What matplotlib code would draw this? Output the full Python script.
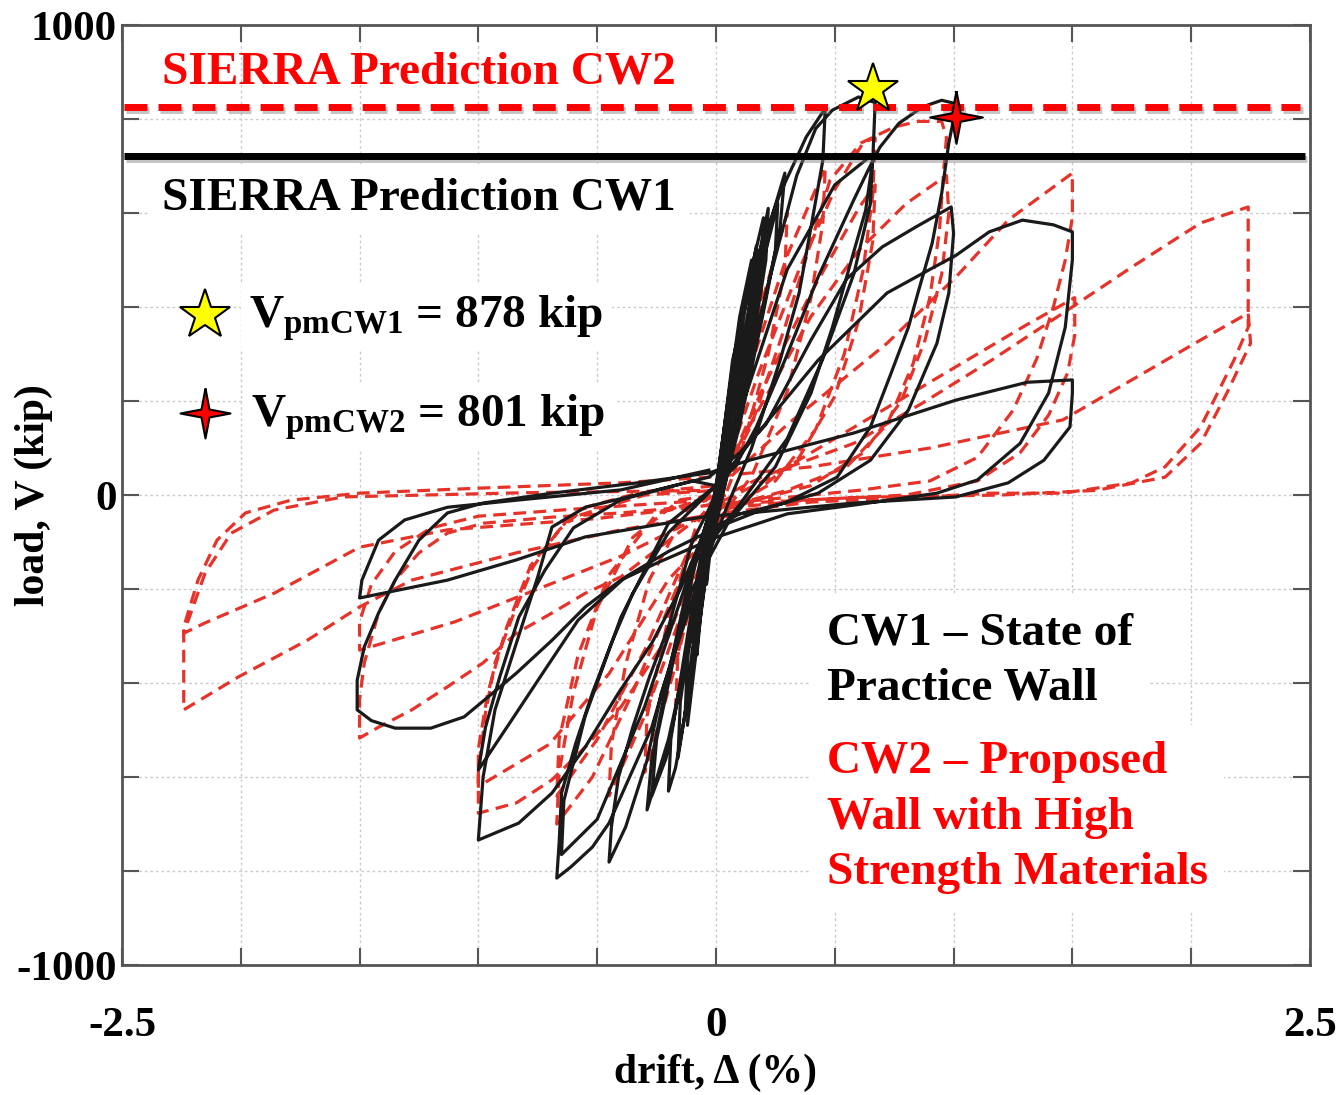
import numpy as np
import matplotlib.pyplot as plt
import matplotlib.patheffects as pe

plt.rcParams['font.family'] = ['Liberation Serif', 'DejaVu Serif']
plt.rcParams['font.weight'] = 'bold'
plt.rcParams['mathtext.fontset'] = 'custom'
plt.rcParams['mathtext.rm'] = 'Liberation Serif:bold'
plt.rcParams['mathtext.it'] = 'Liberation Serif:bold'
plt.rcParams['mathtext.bf'] = 'Liberation Serif:bold'

# SIERRA predictions (kip)
sierra_cw1 = 722
sierra_cw2 = 826

# peak strengths marked by stars (drift %, load kip)
peak_cw1 = (0.66, 865)
peak_cw2 = (1.01, 804)

# CW1 - state of practice wall, cycles (drift %, load kip)
cw1_c01 = [(0, 0), (0.03, 110), (0.06, 200), (0.05, 130), (0.01, 20), (-0.02, -100), (-0.04, -190),
           (-0.035, -120), (0, 0)]
cw1_c02 = [(0, 0), (0.05, 170), (0.10, 340), (0.09, 250), (0.04, 90), (-0.02, -70), (-0.06, -230),
           (-0.08, -340), (-0.07, -250), (-0.02, -80), (0, 0)]
cw1_c03 = [(0, 0), (0.06, 190), (0.12, 390), (0.17, 530), (0.16, 420), (0.11, 250), (0.04, 50),
           (-0.03, -120), (-0.08, -320), (-0.12, -490), (-0.11, -370), (-0.06, -180), (0, 0)]
cw1_c03b = [(0, 10), (0.05, 200), (0.10, 380), (0.15, 500), (0.14, 390), (0.09, 230), (0.02, 40),
            (-0.04, -140), (-0.09, -340), (-0.13, -470), (-0.12, -350), (-0.07, -160), (0, 10)]
cw1_c04 = [(0, 0), (0.07, 210), (0.15, 430), (0.22, 610), (0.21, 500), (0.15, 310), (0.06, 70),
           (-0.03, -130), (-0.10, -380), (-0.17, -580), (-0.20, -630), (-0.19, -520), (-0.12, -300),
           (-0.04, -60), (0, 0)]
cw1_c04b = [(0, 20), (0.06, 230), (0.13, 440), (0.20, 590), (0.19, 470), (0.13, 290), (0.05, 60),
            (-0.04, -150), (-0.11, -400), (-0.16, -560), (-0.15, -440), (-0.09, -230), (0, 20)]
cw1_c05 = [(0, 0), (0.08, 230), (0.18, 480), (0.24, 600), (0.29, 685), (0.27, 570), (0.20, 390),
           (0.10, 150), (0.0, -50), (-0.10, -290), (-0.20, -520), (-0.29, -670), (-0.27, -560),
           (-0.20, -380), (-0.10, -150), (0, 0)]
cw1_c05b = [(0, 10), (0.09, 260), (0.18, 460), (0.26, 620), (0.25, 520), (0.18, 350), (0.08, 120),
            (-0.02, -80), (-0.12, -330), (-0.21, -560), (-0.27, -640), (-0.25, -520), (-0.17, -330),
            (-0.07, -110), (0, 10)]
cw1_c06 = [(0, 0), (0.07, 287), (0.17, 500), (0.27, 642), (0.38, 762), (0.46, 823), (0.45, 713),
           (0.40, 570), (0.35, 430), (0.27, 287), (0.15, 100), (0.05, -20), (-0.05, -150),
           (-0.15, -300), (-0.23, -421), (-0.29, -564), (-0.38, -706), (-0.45, -781), (-0.44, -706),
           (-0.41, -600), (-0.35, -494), (-0.28, -387), (-0.20, -281), (-0.10, -100), (0, 0)]
cw1_c07 = [(0, 0), (0.10, 200), (0.21, 430), (0.34, 680), (0.42, 780), (0.49, 819), (0.60, 847),
           (0.67, 835), (0.66, 713), (0.63, 606), (0.57, 500), (0.49, 357), (0.40, 217), (0.25, 60),
           (0.05, -60), (-0.10, -200), (-0.27, -494), (-0.45, -698), (-0.52, -749), (-0.61, -791),
           (-0.67, -815), (-0.66, -740), (-0.65, -634), (-0.59, -528), (-0.52, -421), (-0.44, -315),
           (-0.35, -209), (-0.20, -80), (0, 20)]
cw1_c08 = [(0, 20), (0.15, 250), (0.30, 480), (0.50, 660), (0.66, 725), (0.65, 620), (0.58, 470),
           (0.45, 290), (0.30, 120), (0.10, -20), (-0.10, -150), (-0.30, -450), (-0.50, -690),
           (-0.65, -765), (-0.64, -650), (-0.55, -470), (-0.40, -260), (-0.20, -60), (0, 20)]
cw1_c09 = [(0, 20), (0.08, 60), (0.17, 145), (0.29, 287), (0.43, 464), (0.58, 628), (0.64, 691),
           (0.69, 740), (0.77, 791), (0.87, 826), (0.95, 840), (1.00, 834), (1.00, 800), (0.98, 749),
           (0.95, 642), (0.91, 536), (0.85, 430), (0.81, 357), (0.73, 250), (0.65, 145), (0.51, 38),
           (0.29, -17), (0.10, -40), (-0.05, -80), (-0.15, -200), (-0.27, -315), (-0.41, -421),
           (-0.55, -536), (-0.69, -634), (-0.83, -698), (-1.00, -734), (-0.98, -600), (-0.93, -457),
           (-0.84, -315), (-0.75, -174), (-0.69, -68), (-0.55, -26), (-0.25, 11), (-0.03, 38)]
cw1_c10 = [(-0.03, 38), (0.10, 90), (0.21, 150), (0.40, 330), (0.55, 460), (0.70, 528), (0.84, 570),
           (0.99, 613), (1.00, 557), (0.98, 430), (0.93, 323), (0.81, 181), (0.65, 74), (0.43, 4),
           (0.20, -30), (0.0, -70), (-0.20, -120), (-0.38, -174), (-0.58, -266), (-0.72, -372),
           (-0.86, -479), (-1.00, -585), (-0.97, -494), (-0.91, -387), (-0.83, -260), (-0.72, -160),
           (-0.60, -70), (-0.40, -10), (-0.10, 30)]
cw1_c11 = [(-0.10, 30), (0.0, 20), (0.14, 110), (0.43, 287), (0.72, 430), (0.90, 480), (1.01, 510),
           (1.15, 560), (1.29, 585), (1.42, 575), (1.50, 560), (1.50, 500), (1.47, 357), (1.40, 217),
           (1.28, 110), (1.10, 32), (0.93, 4), (0.60, -20), (0.30, -40), (0.0, -90), (-0.25, -145),
           (-0.40, -181), (-0.55, -238), (-0.69, -309), (-0.84, -379), (-0.96, -430), (-1.06, -472),
           (-1.20, -496), (-1.35, -496), (-1.45, -480), (-1.51, -457), (-1.51, -394), (-1.48, -323),
           (-1.42, -251), (-1.35, -181), (-1.25, -96), (-1.13, -38), (-0.98, -17), (-0.69, 4),
           (-0.33, 26), (-0.03, 47)]
cw1_c12 = [(-0.03, 47), (0.14, 74), (0.58, 132), (1.01, 202), (1.31, 240), (1.50, 245), (1.50, 217),
           (1.49, 145), (1.38, 74), (1.23, 26), (1.01, -4), (0.58, -17), (0.14, -38), (-0.06, -47),
           (-0.55, -89), (-0.84, -138), (-1.13, -181), (-1.50, -219), (-1.49, -181), (-1.42, -96),
           (-1.31, -53), (-1.13, -26), (-0.84, -11), (-0.40, 11), (-0.03, 53)]

# CW2 - proposed wall with high strength materials
cw2_c01 = [(0, 0), (0.05, 180), (0.10, 330), (0.09, 240), (0.03, 50), (-0.03, -120), (-0.08, -300),
           (-0.07, -210), (0, 0)]
cw2_c02 = [(0, 0), (0.10, 300), (0.20, 520), (0.19, 420), (0.12, 230), (0.02, 20), (-0.08, -220),
           (-0.17, -450), (-0.16, -340), (-0.09, -150), (0, 0)]
cw2_c03 = [(0, 0), (0.12, 280), (0.30, 600), (0.29, 480), (0.22, 300), (0.10, 80), (-0.05, -120),
           (-0.18, -380), (-0.30, -590), (-0.29, -470), (-0.20, -260), (-0.08, -60), (0, 0)]
cw2_c04 = [(0, 0), (0.15, 280), (0.30, 510), (0.46, 698), (0.45, 580), (0.40, 420), (0.30, 220),
           (0.15, 40), (0.0, -60), (-0.15, -260), (-0.30, -470), (-0.45, -640), (-0.44, -530),
           (-0.38, -360), (-0.28, -180), (-0.12, -30), (0, 0)]
cw2_c05 = [(0, 0), (0.18, 260), (0.35, 480), (0.50, 650), (0.62, 750), (0.67, 760), (0.66, 640),
           (0.62, 480), (0.54, 300), (0.42, 140), (0.25, 30), (0.05, -30), (-0.15, -180),
           (-0.35, -420), (-0.52, -600), (-0.67, -700), (-0.66, -590), (-0.60, -420), (-0.50, -240),
           (-0.35, -90), (-0.15, -10), (0, 0)]
cw2_c06 = [(0, 0), (0.20, 230), (0.40, 430), (0.60, 610), (0.67, 660), (0.66, 540), (0.60, 370),
           (0.50, 210), (0.35, 80), (0.15, 0), (-0.10, -100), (-0.30, -330), (-0.50, -520),
           (-0.67, -640), (-0.66, -520), (-0.58, -340), (-0.45, -170), (-0.25, -40), (0, 0)]
cw2_c07 = [(0, 0), (0.15, 150), (0.29, 357), (0.48, 670), (0.61, 749), (0.75, 783), (0.85, 795),
           (0.95, 795), (0.97, 760), (0.96, 700), (0.94, 560), (0.90, 420), (0.83, 280), (0.72, 150),
           (0.55, 60), (0.30, 10), (0.0, -30), (-0.20, -300), (-0.40, -451), (-0.55, -536),
           (-0.69, -606), (-0.84, -655), (-1.00, -677), (-1.00, -591), (-0.97, -464), (-0.93, -357),
           (-0.85, -251), (-0.77, -153), (-0.66, -74), (-0.55, -26), (-0.33, 4), (0, 20)]
cw2_c08 = [(0, 20), (0.20, 200), (0.40, 380), (0.60, 520), (0.80, 620), (0.97, 680), (0.98, 600),
           (0.95, 470), (0.88, 330), (0.78, 200), (0.62, 90), (0.40, 20), (0.10, -20), (-0.20, -180),
           (-0.45, -380), (-0.70, -530), (-1.00, -620), (-1.00, -540), (-0.96, -420), (-0.88, -280),
           (-0.78, -150), (-0.62, -50), (-0.30, 0), (0, 10)]
cw2_c09 = [(0, 10), (0.30, 150), (0.72, 323), (1.01, 464), (1.23, 585), (1.46, 670), (1.50, 685),
           (1.50, 591), (1.47, 500), (1.42, 400), (1.35, 290), (1.25, 180), (1.10, 80), (0.90, 30),
           (0.60, 10), (0.0, -20), (-0.40, -174), (-0.55, -209), (-0.69, -251), (-0.84, -294),
           (-0.98, -357), (-1.13, -408), (-1.28, -457), (-1.42, -494), (-1.50, -517), (-1.50, -436),
           (-1.48, -357), (-1.42, -251), (-1.35, -181), (-1.25, -123), (-1.13, -81), (-0.98, -60),
           (-0.69, -47), (-0.40, -38), (0, -20)]
cw2_c10 = [(0, -20), (0.20, 30), (0.60, 150), (1.00, 270), (1.30, 360), (1.51, 420), (1.51, 340),
           (1.48, 260), (1.40, 170), (1.28, 90), (1.10, 30), (0.80, 0), (0.40, -10), (0, -30),
           (-0.40, -130), (-0.80, -210), (-1.10, -270), (-1.50, -330), (-1.50, -270), (-1.45, -190),
           (-1.35, -120), (-1.20, -70), (-1.00, -45), (-0.60, -30), (0, -10)]
cw2_c11 = [(0, -10), (0.20, 40), (0.58, 110), (0.87, 196), (1.16, 287), (1.46, 387), (1.75, 485),
           (2.04, 579), (2.24, 613), (2.24, 460), (2.24, 357), (2.18, 287), (2.04, 145), (1.89, 60),
           (1.75, 26), (1.46, 4), (1.16, 4), (0.87, -4), (0.40, -15), (0, -40), (-0.40, -74),
           (-0.84, -123), (-1.28, -181), (-1.50, -238), (-1.72, -309), (-2.01, -387), (-2.24, -457),
           (-2.24, -370), (-2.24, -281), (-2.18, -181), (-2.10, -96), (-1.98, -38), (-1.79, -11),
           (-1.50, 4), (-0.98, 15), (-0.40, 26), (-0.03, 38)]
cw2_c12 = [(-0.03, 38), (0.40, 60), (0.90, 100), (1.46, 160), (1.75, 245), (2.04, 330), (2.24, 387),
           (2.25, 323), (2.15, 217), (2.04, 110), (1.89, 38), (1.60, 10), (1.20, 0), (0.60, -5),
           (0, -20), (-0.50, -50), (-1.13, -74), (-1.50, -111), (-1.86, -209), (-2.15, -272),
           (-2.24, -294), (-2.21, -251), (-2.15, -166), (-2.04, -81), (-1.86, -32), (-1.57, -4),
           (-0.80, 5), (0, 10)]

cw1_cycles = [cw1_c01, cw1_c02, cw1_c03, cw1_c03b, cw1_c04, cw1_c04b, cw1_c05, cw1_c05b, cw1_c06,
              cw1_c07, cw1_c08, cw1_c09, cw1_c10, cw1_c11, cw1_c12]
cw2_cycles = [cw2_c01, cw2_c02, cw2_c03, cw2_c04, cw2_c05, cw2_c06, cw2_c07, cw2_c08, cw2_c09,
              cw2_c10, cw2_c11, cw2_c12]

cw1 = np.array([p for c in cw1_cycles for p in c])
cw2 = np.array([p for c in cw2_cycles for p in c])

red = '#ff0000'
curve_red = '#e6332a'

fig = plt.figure(figsize=(13.4, 10.95), dpi=100)
ax = fig.add_axes([0.091, 0.1187, 0.8866, 0.8584])

ax.plot(cw2[:, 0], cw2[:, 1], color=curve_red, lw=2.3, ls=(0, (4, 2.3)), zorder=3)
ax.plot(cw1[:, 0], cw1[:, 1], color='#1a1a1a', lw=2.3, solid_joinstyle='round', zorder=4)

shadow = [pe.SimpleLineShadow(offset=(1.5, -2.5), shadow_color='gray', alpha=0.45), pe.Normal()]
ax.hlines(sierra_cw1, -2.49, 2.48, color='black', lw=5, zorder=5, path_effects=shadow)
ax.hlines(sierra_cw2, -2.49, 2.46, color=red, lw=5, ls=(0, (3.3, 1.6)), zorder=5,
          path_effects=shadow)

# four pointed star marker
four_star = [(0, 1), (0.16, 0.16), (1, 0), (0.16, -0.16), (0, -1), (-0.16, -0.16), (-1, 0),
             (-0.16, 0.16), (0, 1)]

ax.plot(*peak_cw1, marker='*', ms=38, mfc='yellow', mec='black', mew=1.5, ls='none', zorder=7)
ax.plot(*peak_cw2, marker=four_star, ms=38, mfc=red, mec='black', mew=1.5, ls='none', zorder=7)

# annotations
box = dict(facecolor='white', edgecolor='none', pad=6)
ax.text(-2.33, 900, 'SIERRA Prediction CW2', color=red, fontsize=34, va='center', ha='left',
        zorder=6)
ax.text(-2.33, 630, 'SIERRA Prediction CW1', color='black', fontsize=34, va='center', ha='left',
        zorder=6, bbox=dict(facecolor='white', edgecolor='none', pad=10))
ax.text(-1.965, 377, r'$\mathregular{V_{pmCW1}}$ = 878 kip', fontsize=34, va='center', ha='left',
        zorder=6, bbox=box)
ax.text(-1.955, 165, r'$\mathregular{V_{pmCW2}}$ = 801 kip', fontsize=34, va='center', ha='left',
        zorder=6, bbox=box)
ax.plot(0.0699, 0.6915, marker='*', ms=38, mfc='yellow', mec='black', mew=1.5,
        transform=ax.transAxes, zorder=7)
ax.plot(0.0699, 0.5872, marker=four_star, ms=36, mfc=red, mec='black', mew=1.5,
        transform=ax.transAxes, zorder=7)

ax.text(0.467, -353, 'CW1 \u2013 State of\nPractice Wall', color='black', fontsize=34,
        va='center', ha='left', linespacing=1.42, zorder=6,
        bbox=dict(facecolor='white', edgecolor='none', pad=12))
ax.text(0.467, -687, 'CW2 \u2013 Proposed\nWall with High\nStrength Materials', color=red,
        fontsize=34, va='center', ha='left', linespacing=1.42, zorder=6,
        bbox=dict(facecolor='white', edgecolor='none', pad=12))

ax.set_xlim(-2.5, 2.5)
ax.set_ylim(-1000, 1000)
ax.set_xticks([-2.5, 0, 2.5])
ax.set_xticklabels(['-2.5', '0', '2.5'])
ax.set_yticks([-1000, 0, 1000])
ax.set_yticklabels(['-1000', '0', '1000'])
ax.set_xticks(np.arange(-2.5, 2.51, 0.5), minor=True)
ax.set_yticks(np.arange(-1000, 1001, 200), minor=True)
ax.grid(which='both', ls=(0, (2, 2)), color='#cccccc', lw=1)
ax.tick_params(which='both', direction='in', top=True, right=True, length=12, width=1.5,
               color='#555555')
ax.tick_params(axis='x', labelsize=31, pad=30)
ax.tick_params(axis='y', labelsize=31, pad=4)
for s in ax.spines.values():
    s.set_color('#555555')
    s.set_linewidth(2)

ax.set_xlabel('drift, \u0394 (%)', fontsize=30, fontweight='bold')
ax.set_ylabel('load, V (kip)', fontsize=30, fontweight='bold')
ax.xaxis.set_label_coords(0.5, -0.094)
ax.yaxis.set_label_coords(-0.058, 0.5)

fig.savefig('out.png', dpi=100)
